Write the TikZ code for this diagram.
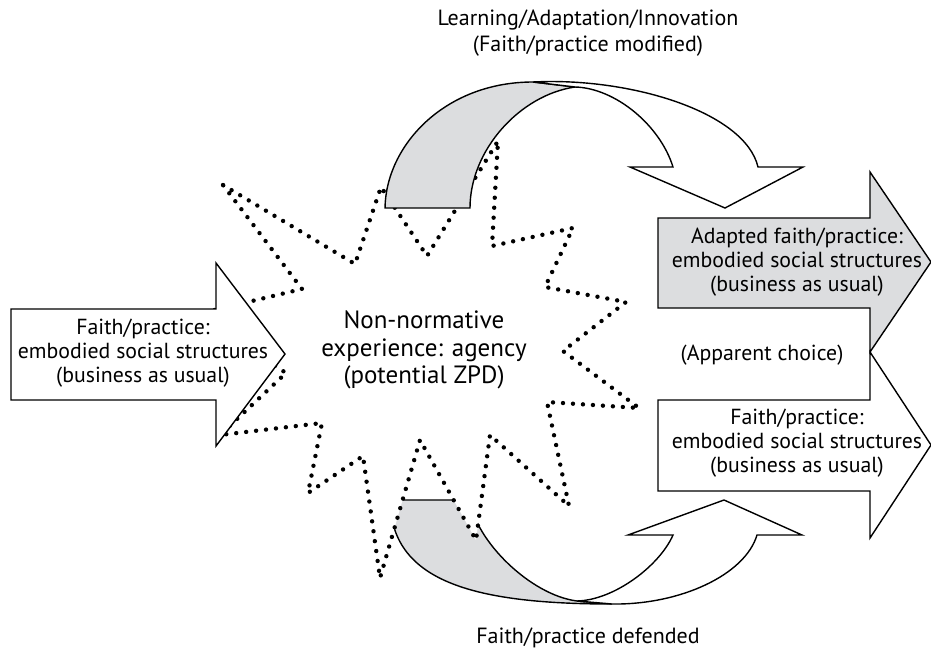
\documentclass[tikz,border=0pt]{standalone}
\usepackage{fontspec}
\setmainfont{PT Sans}
\usetikzlibrary{calc}
\definecolor{backshade}{RGB}{220,221,223}

\begin{document}
\begin{tikzpicture}[x=1pt,y=-1pt,line width=1.4pt,line join=miter,
  starline/.style={line width=4.4pt,line cap=round,dash pattern=on 0pt off 10pt},
  boxtext/.style={align=center,inner sep=0pt,font=\fontsize{21.8}{24}\selectfont},
  midtext/.style={align=center,inner sep=0pt,font=\fontsize{25}{27.5}\selectfont}]
  \useasboundingbox (0,0) rectangle (931,653);
  % lower curved arrow (defended)
  \draw[fill=backshade] (390,500) .. controls (391,580) and (470,604) .. (612,604)
    -- (577,601) .. controls (530,595) and (475,540) .. (470,500) -- cycle;
  \draw[fill=white] (577,601) .. controls (615,600) and (660,565) .. (673,535)
    -- (628,535) -- (724,500) -- (802,535) -- (757,535)
    .. controls (745,575) and (680,605) .. (612,604) -- cycle;
  % the burst
  \fill[white] (223,185) -- (355,264) -- (381,187) -- (427,256) -- (498,141)
    -- (492,246) -- (573,228) -- (545,287) -- (626,302) -- (563,351)
    -- (639,408) -- (547,402) -- (569,506) -- (490,435) -- (476,540)
    -- (420,440) -- (380,578) -- (363,456) -- (308,493) -- (322,423)
    -- (220,435) -- (286,373) -- (198,314) -- (302,289) -- cycle;
  \draw[starline] (223,185) -- (355,264) -- (381,187) -- (427,256) -- (498,141)
    -- (492,246) -- (573,228) -- (545,287) -- (626,302) -- (563,351)
    -- (639,408) -- (547,402) -- (569,506) -- (490,435) -- (476,540)
    -- (420,440) -- (380,578) -- (363,456) -- (308,493) -- (322,423)
    -- (220,435) -- (286,373) -- (198,314) -- (302,289) -- cycle;
  % upper curved arrow (modified)
  \draw[fill=backshade] (385,208) .. controls (386,145) and (445,82) .. (533,82)
    -- (575,87) .. controls (520,95) and (470,150) .. (470,208) -- cycle;
  \draw[fill=white] (533,82) .. controls (630,77) and (745,112) .. (758,167)
    -- (803,167) -- (725,208) -- (630,167) -- (673,167)
    .. controls (660,125) and (615,88) .. (575,87) -- cycle;
  % straight arrows
  \draw[fill=white] (11,309) -- (216,309) -- (216,263) -- (285,354)
    -- (216,446) -- (216,400) -- (11,400) -- cycle;
  \draw[fill=backshade] (658,218) -- (870,218) -- (870,172) -- (931,262)
    -- (870,352) -- (870,308) -- (658,308) -- cycle;
  \draw[fill=white] (658,400) -- (870,400) -- (870,352) -- (931,445)
    -- (870,538) -- (870,491) -- (658,491) -- cycle;
  % texts
  \node[boxtext] (inflow) at (143,353) {Faith/practice:\\embodied social structures\\(business as usual)};
  \node[boxtext] (adapted) at (797,262) {Adapted faith/practice:\\embodied social structures\\(business as usual)};
  \node[boxtext] (kept) at (797,443) {Faith/practice:\\embodied social structures\\(business as usual)};
  \node[boxtext] (choice) at (762,355) {(Apparent choice)};
  \node[midtext] (agency) at (424,350) {Non-normative\\experience: agency\\(potential ZPD)};
  \node[boxtext,font=\fontsize{22}{26}\selectfont] (learning) at (588,33) {Learning/Adaptation/Innovation\\(Faith/practice modified)};
  \node[boxtext,font=\fontsize{22}{26}\selectfont] (defended) at (588,638) {Faith/practice defended};
\end{tikzpicture}
\end{document}
